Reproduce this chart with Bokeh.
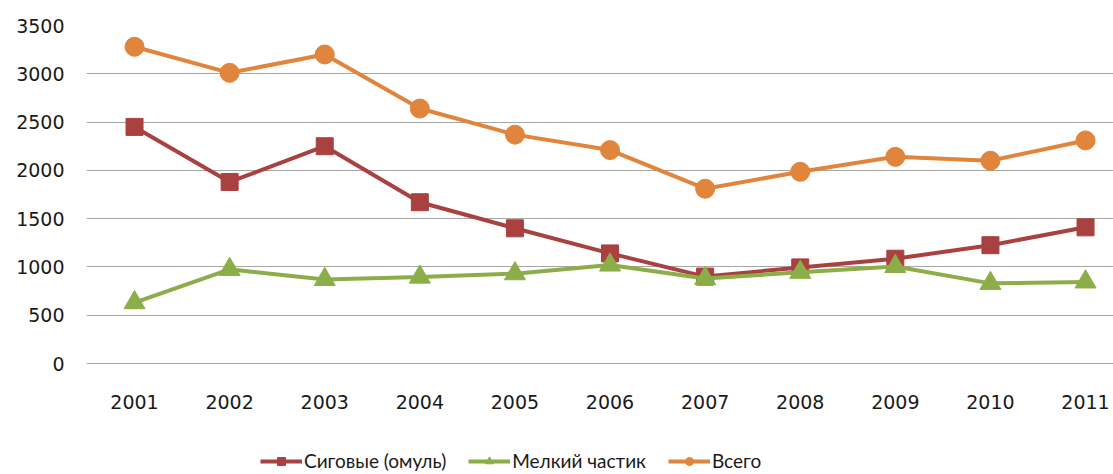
from bokeh.plotting import figure
from bokeh.models import Range1d, FixedTicker, Legend, LegendItem
from bokeh.embed import file_html
from bokeh.resources import INLINE

years = [2001, 2002, 2003, 2004, 2005, 2006, 2007, 2008, 2009, 2010, 2011]
sigovye = [2450, 1880, 2250, 1670, 1400, 1140, 900, 995, 1085, 1225, 1410]
melkiy = [630, 975, 870, 895, 930, 1020, 880, 945, 1005, 830, 845]
vsego = [3280, 3010, 3200, 2640, 2370, 2210, 1810, 1985, 2140, 2100, 2310]
y_ticks = [0, 500, 1000, 1500, 2000, 2500, 3000, 3500]

names = ["Сиговые (омуль)", "Мелкий частик", "Всего"]
colors = ["#A94141", "#8CAE48", "#E0853B"]

TICK_FONT = "DejaVu Sans"
LEG_FONT = "Lato"

# frame spans the whole lower area so the legend (below the axis) is not clipped
p = figure(frame_width=1027, frame_height=449, output_backend="svg", toolbar_location=None,
           x_range=Range1d(2000.495, 2011.294), y_range=Range1d(-1149.4, 3500),
           min_border_left=86, min_border_right=0, min_border_top=25,
           min_border_bottom=0)
p.outline_line_color = None
p.background_fill_color = "white"
p.border_fill_color = "white"

r1l = p.line(years, sigovye, line_color=colors[0], line_width=4)
r1s = p.scatter(years, sigovye, marker="square", size=17, fill_color=colors[0], line_color=colors[0])
r2l = p.line(years, melkiy, line_color=colors[1], line_width=4)
r2s = p.scatter(years, melkiy, marker="triangle", size=21, fill_color=colors[1], line_color=colors[1])
r3l = p.line(years, vsego, line_color=colors[2], line_width=4)
r3s = p.scatter(years, vsego, marker="circle", size=19, fill_color=colors[2], line_color=colors[2])

p.xaxis.ticker = FixedTicker(ticks=years)
p.yaxis.ticker = FixedTicker(ticks=y_ticks)
p.xaxis.fixed_location = 0
for ax in (p.xaxis[0], p.yaxis[0]):
    ax.axis_line_color = None
    ax.major_tick_line_color = None
    ax.minor_tick_line_color = None
    ax.major_tick_out = 0
    ax.major_tick_in = 0
    ax.minor_tick_out = 0
    ax.major_label_text_font = TICK_FONT
    ax.major_label_text_font_size = "19px"
    ax.major_label_text_color = "#1a1a1a"
p.xaxis.major_label_standoff = 31
p.yaxis.major_label_standoff = 22

p.xgrid.grid_line_color = None
p.ygrid.grid_line_color = "#A6A6A6"
p.ygrid.grid_line_width = 1.2

legend = Legend(items=[
    LegendItem(label=names[0], renderers=[r1l, r1s]),
    LegendItem(label=names[1], renderers=[r2l, r2s]),
    LegendItem(label=names[2], renderers=[r3l, r3s]),
], orientation="horizontal", location=(174, 2))
legend.label_text_font = LEG_FONT
legend.label_text_font_size = "19px"
legend.label_text_color = "#1a1a1a"
legend.border_line_color = None
legend.background_fill_alpha = 0
legend.glyph_width = 42
legend.glyph_height = 20
legend.label_height = 20
legend.spacing = 22
legend.label_standoff = 2
legend.padding = 0
legend.margin = 0
p.add_layout(legend, "center")

open("out.html", "w").write(file_html(p, INLINE))
